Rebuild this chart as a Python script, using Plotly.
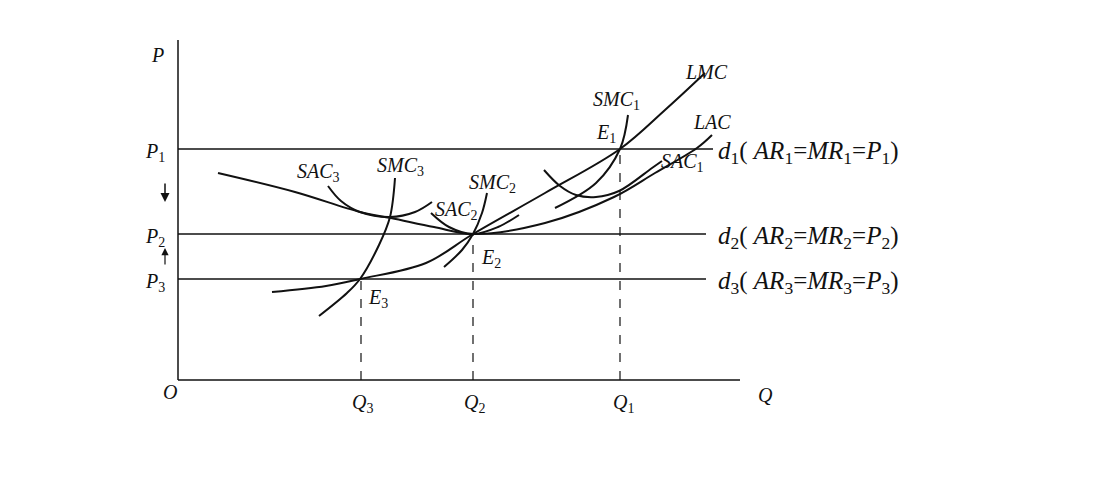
import plotly.graph_objects as go

# long-run / short-run cost curves (picture coordinates, y grows downward)
lac_x = [218, 295, 360, 391, 434, 473, 545, 614, 655, 697, 712]
lac_y = [173, 192, 212, 218, 227, 234, 223, 197, 173, 148, 135]
lmc_x = [272, 326, 360, 426, 473, 545, 620, 665, 705]
lmc_y = [292, 286, 279, 263, 234, 193, 149, 110, 73]
smc3_x = [319, 347, 360, 379, 390, 395]
smc3_y = [316, 293, 279, 245, 217, 178]
sac3_x = [328, 341, 360, 390, 415, 432]
sac3_y = [186, 201, 212, 217, 212, 202]
sac2_x = [431, 449, 473, 498, 519]
sac2_y = [213, 227, 234, 227, 215]
smc2_x = [444, 462, 473, 482, 487]
smc2_y = [267, 250, 234, 213, 193]
smc1_x = [555, 596, 620, 628]
smc1_y = [208, 183, 149, 115]
sac1_x = [544, 560, 576, 596, 619, 652, 662]
sac1_y = [170, 186, 195, 197, 191, 168, 161]

origin = (178, 380)
price_y = [149, 234, 279]
price_end = [713, 706, 706]
qty_x = [620, 473, 361]
eq_y = [149, 234, 279]

BLACK = "#111"
fig = go.Figure()

def curve(x, y, w=2):
    fig.add_trace(go.Scatter(x=x, y=y, mode="lines", line=dict(color=BLACK, width=w, shape="spline"),
                             hoverinfo="skip", showlegend=False))

for xs, ys in [(lac_x, lac_y), (lmc_x, lmc_y), (smc3_x, smc3_y), (sac3_x, sac3_y),
               (sac2_x, sac2_y), (smc2_x, smc2_y), (smc1_x, smc1_y), (sac1_x, sac1_y)]:
    curve(xs, ys)

# axes
curve([origin[0], origin[0]], [40, origin[1]], 1.5)
curve([origin[0], 740], [origin[1], origin[1]], 1.5)

# demand lines
for py, pe in zip(price_y, price_end):
    curve([origin[0], pe], [py, py], 1.5)

# dashed verticals
for qx, ey in zip(qty_x, eq_y):
    fig.add_trace(go.Scatter(x=[qx, qx], y=[origin[1], ey], mode="lines",
                             line=dict(color=BLACK, width=1.2, dash="dash"),
                             hoverinfo="skip", showlegend=False))

# price-adjustment arrows
fig.add_annotation(x=165, y=202, ax=165, ay=182, xref="x", yref="y", axref="x", ayref="y",
                   text="", showarrow=True, arrowhead=2, arrowsize=1.2, arrowwidth=1.5, arrowcolor=BLACK)
fig.add_annotation(x=165, y=248, ax=165, ay=266, xref="x", yref="y", axref="x", ayref="y",
                   text="", showarrow=True, arrowhead=2, arrowsize=1.2, arrowwidth=1.2, arrowcolor=BLACK)

F = dict(family="Liberation Serif", size=20, color=BLACK)
labels = [
    (157, 55, "<i>P</i>"), (155, 152, "<i>P</i><sub>1</sub>"),
    (155, 237, "<i>P</i><sub>2</sub>"), (155, 282, "<i>P</i><sub>3</sub>"),
    (170, 392, "<i>O</i>"), (362, 403, "<i>Q</i><sub>3</sub>"), (474, 403, "<i>Q</i><sub>2</sub>"),
    (623, 403, "<i>Q</i><sub>1</sub>"), (765, 395, "<i>Q</i>"),
    (706, 72, "<i>LMC</i>"), (712, 122, "<i>LAC</i>"), (616, 100, "<i>SMC</i><sub>1</sub>"),
    (606, 133, "<i>E</i><sub>1</sub>"), (682, 162, "<i>SAC</i><sub>1</sub>"),
    (492, 183, "<i>SMC</i><sub>2</sub>"), (456, 210, "<i>SAC</i><sub>2</sub>"),
    (491, 258, "<i>E</i><sub>2</sub>"), (318, 172, "<i>SAC</i><sub>3</sub>"),
    (400, 166, "<i>SMC</i><sub>3</sub>"), (378, 298, "<i>E</i><sub>3</sub>"),
]
for x, y, t in labels:
    fig.add_annotation(x=x, y=y, text=t, showarrow=False, font=F)

demand_labels = [
    "<i>d</i><sub>1</sub>( <i>AR</i><sub>1</sub>=<i>MR</i><sub>1</sub>=<i>P</i><sub>1</sub>)",
    "<i>d</i><sub>2</sub>( <i>AR</i><sub>2</sub>=<i>MR</i><sub>2</sub>=<i>P</i><sub>2</sub>)",
    "<i>d</i><sub>3</sub>( <i>AR</i><sub>3</sub>=<i>MR</i><sub>3</sub>=<i>P</i><sub>3</sub>)",
]
for py, t in zip(price_y, demand_labels):
    fig.add_annotation(x=716, y=py + 3, text=t, showarrow=False, xanchor="left",
                       font=dict(family="Liberation Serif", size=25, color=BLACK))

fig.update_layout(
    width=1100, height=502, margin=dict(l=0, r=0, t=0, b=0),
    plot_bgcolor="white", paper_bgcolor="white",
    xaxis=dict(range=[8, 1108], visible=False),
    yaxis=dict(range=[510, 8], visible=False),
)
fig.write_html("out.html")
